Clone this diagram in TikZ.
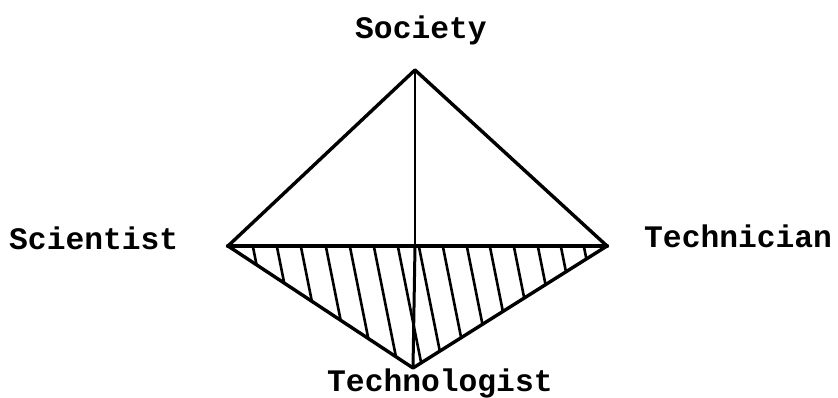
\documentclass[tikz,border=0pt]{standalone}
\usepackage{fontspec}
\setmonofont{Liberation Mono}
\begin{document}
\begin{tikzpicture}[x=1pt,y=1pt,
  lbl/.style={font=\ttfamily\bfseries\fontsize{31.3}{34}\selectfont, inner sep=0pt, anchor=base west},
  edge/.style={line width=3.4pt, line join=round, line cap=round},
  hatch/.style={line width=2.6pt}]
\useasboundingbox (0,0) rectangle (838,398);
\coordinate (T) at (415,328);
\coordinate (L) at (228,152);
\coordinate (R) at (607,152);
\coordinate (B) at (413,30);
\coordinate (M) at (415,152);
% hatching in lower triangle
\begin{scope}
\clip (L) -- (R) -- (B) -- cycle;
\foreach \x in {252,276,300,325,349,373,397,418,442,466,489,513,537,560,583}
  \draw[hatch] (\x,156) -- ++(26,-130);
\end{scope}
\draw[edge] (L) -- (T) -- (R) -- (B) -- cycle;
\draw[line width=4.4pt, line cap=round] (L) -- (R);
\draw[line width=2.4pt] (T) -- (M);
\draw[line width=3pt] (M) -- (B);
\node[lbl] (soc) at (355,359) {Society};
\node[lbl] (sci) at (9,148) {Scientist};
\node[lbl] (tcn) at (644,150) {Technician};
\node[lbl] (tgl) at (327,6) {Technologist};
\end{tikzpicture}
\end{document}
